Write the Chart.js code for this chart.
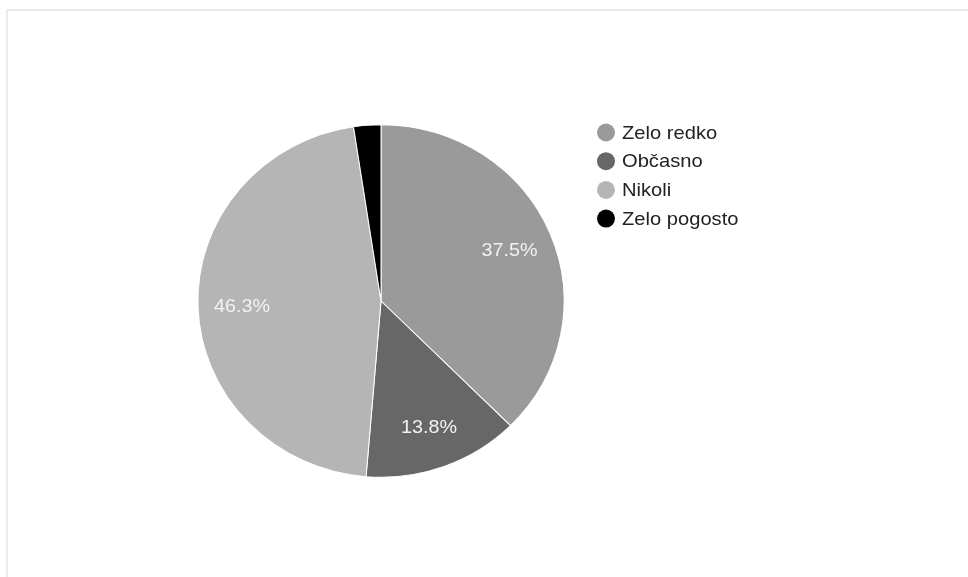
<!DOCTYPE html>
<html>
<head>
<meta charset="utf-8">
<script src="https://cdn.jsdelivr.net/npm/chart.js@4/dist/chart.umd.min.js"></script>
<style>
  html, body { margin: 0; padding: 0; background: #fff; overflow: hidden; }
  #wrap { position: relative; width: 968px; height: 577px; }
  #frame { position: absolute; left: 6px; top: 9px; width: 1000px; height: 600px;
           border-left: 2px solid #ebebeb; border-top: 2px solid #ebebeb; }
  canvas { position: absolute; left: 0; top: 0; }
</style>
</head>
<body>
<div id="wrap">
  <div id="frame"></div>
  <canvas id="c" width="968" height="577"></canvas>
</div>
<script>
// Survey answers and their share of responses (percent)
const categories = ['Zelo redko', 'Občasno', 'Nikoli', 'Zelo pogosto'];
const shares = [37.5, 13.8, 46.3, 2.4];
const sliceColors = ['#9a9a9a', '#676767', '#b5b5b5', '#000000'];

const FONT = '"Liberation Sans", Arial, sans-serif';
// slightly wider than tall pie
const SX = 1.02, SY = 0.982;

const stretchPie = {
  id: 'stretchPie',
  beforeDatasetsDraw(chart) {
    const arc = chart.getDatasetMeta(0).data[0];
    const ctx = chart.ctx;
    ctx.save();
    ctx.translate(arc.x, arc.y);
    ctx.scale(SX, SY);
    ctx.translate(-arc.x, -arc.y);
  },
  afterDatasetsDraw(chart) {
    chart.ctx.restore();
  }
};

// Percentage labels inside the larger slices
const sliceLabels = {
  id: 'sliceLabels',
  afterDatasetsDraw(chart) {
    const ctx = chart.ctx;
    const meta = chart.getDatasetMeta(0);
    const data = chart.data.datasets[0].data;
    const total = data.reduce((a, b) => a + b, 0);
    ctx.save();
    ctx.font = '19px ' + FONT;
    ctx.fillStyle = '#f2f2f2';
    ctx.textAlign = 'center';
    ctx.textBaseline = 'middle';
    meta.data.forEach((arc, i) => {
      const pct = data[i] / total * 100;
      if (pct < 5) return;
      const mid = (arc.startAngle + arc.endAngle) / 2;
      const r = arc.outerRadius * 0.76;
      const x = arc.x + Math.cos(mid) * r * SX;
      const y = arc.y + Math.sin(mid) * r * SY;
      ctx.save();
      ctx.translate(x, y + 1);
      ctx.scale(1.04, 1);
      ctx.fillText(pct.toFixed(1) + '%', 0, 0);
      ctx.restore();
    });
    ctx.restore();
  }
};

// Legend to the right of the pie
const sideLegend = {
  id: 'sideLegend',
  afterDraw(chart) {
    const ctx = chart.ctx;
    const labels = chart.data.labels;
    const colors = chart.data.datasets[0].backgroundColor;
    const x0 = 606, y0 = 132.5, step = 28.7;
    ctx.save();
    ctx.font = '19px ' + FONT;
    ctx.textAlign = 'left';
    ctx.textBaseline = 'middle';
    labels.forEach((lab, i) => {
      const y = y0 + i * step;
      ctx.beginPath();
      ctx.arc(x0, y, 9, 0, Math.PI * 2);
      ctx.fillStyle = colors[i];
      ctx.fill();
      ctx.save();
      ctx.translate(622, y + 1);
      ctx.scale(1.06, 1);
      ctx.fillStyle = '#222222';
      ctx.fillText(lab, 0, 0);
      ctx.restore();
    });
    ctx.restore();
  }
};

new Chart(document.getElementById('c'), {
  type: 'pie',
  data: {
    labels: categories,
    datasets: [{
      data: shares,
      backgroundColor: sliceColors,
      borderColor: '#ffffff',
      borderWidth: 1
    }]
  },
  options: {
    responsive: false,
    devicePixelRatio: 1,
    animation: false,
    layout: { padding: { left: 201, right: 407, top: 121, bottom: 96 } },
    plugins: {
      legend: { display: false },
      tooltip: { enabled: false }
    }
  },
  plugins: [stretchPie, sliceLabels, sideLegend]
});
</script>
</body>
</html>
